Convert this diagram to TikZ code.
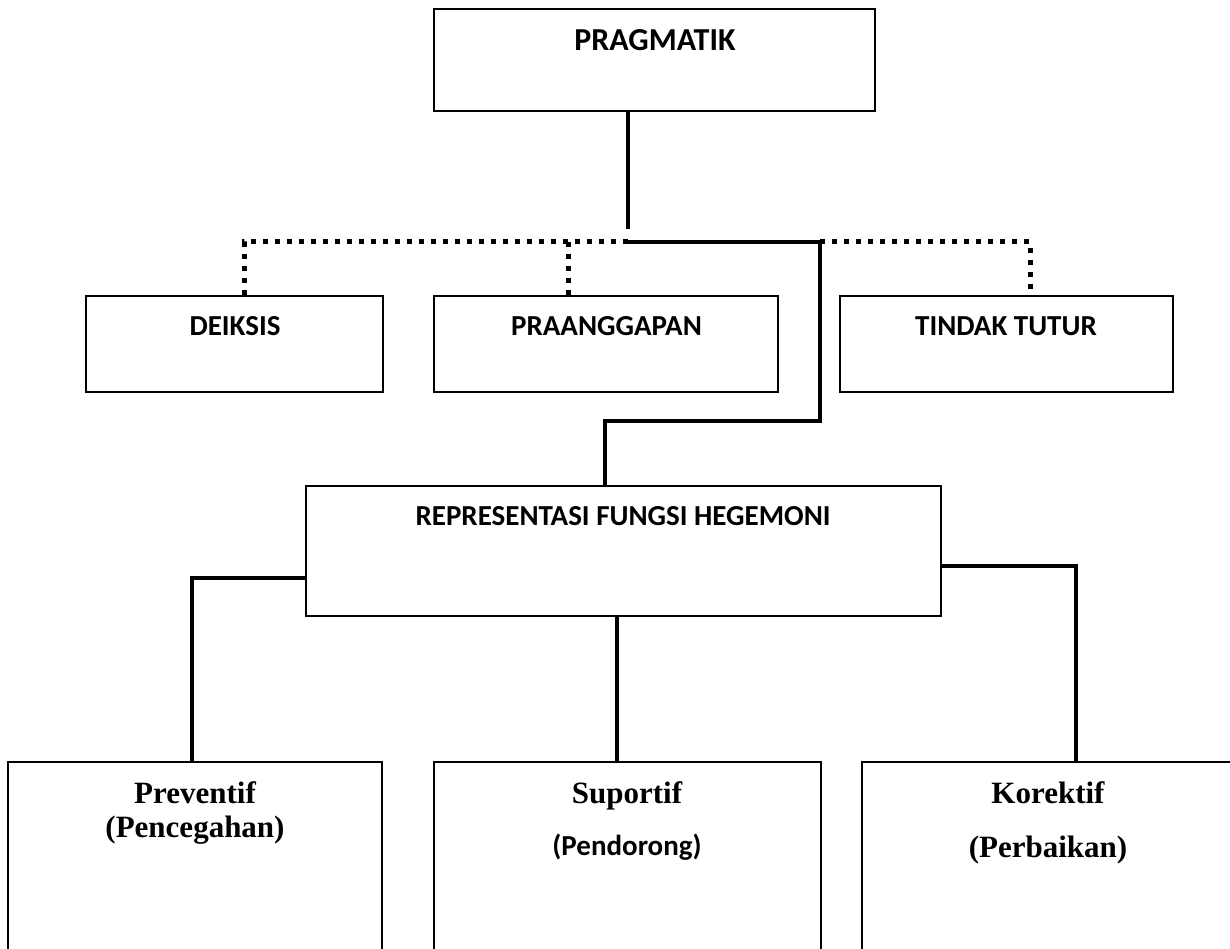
\documentclass[tikz,border=0pt]{standalone}
\usepackage{fontspec}
\setmainfont{Liberation Serif}
\newfontfamily\calib{Carlito}
\begin{document}
\begin{tikzpicture}[x=1pt,y=-1pt,
  box/.style={draw=black,line width=1.3pt,rectangle,inner sep=0pt,fill=white},
  lab/.style={anchor=base,inner sep=0pt,font=\calib\fontsize{29}{34}\selectfont\bfseries},
  serif/.style={anchor=base,inner sep=0pt,font=\fontsize{31}{36}\selectfont\bfseries},
  solid link/.style={line width=4.5pt,line cap=butt,line join=miter},
  dot link/.style={line width=5pt,dash pattern=on 5pt off 7pt,line cap=butt}]
\useasboundingbox (0,0) rectangle (1230,949);
\clip (0,0) rectangle (1230,949);
\fill[white] (0,0) rectangle (1230,949);

% boxes
\node[box,minimum width=441,minimum height=102] (prag) at (654.5,60) {};
\node[box,minimum width=297,minimum height=96] (deik) at (234.5,344) {};
\node[box,minimum width=344,minimum height=96] (praa) at (606,344) {};
\node[box,minimum width=333,minimum height=96] (tind) at (1006.5,344) {};
\node[box,minimum width=635,minimum height=130] (repr) at (623.5,551) {};
\node[box,minimum width=374,minimum height=220] (prev) at (195,872) {};
\node[box,minimum width=387,minimum height=220] (supo) at (627.5,872) {};
\node[box,minimum width=374,minimum height=220] (kore) at (1049,872) {};

% texts
\node[lab,font=\calib\fontsize{32}{36}\selectfont\bfseries] (tprag) at (655,51) {PRAGMATIK};
\node[lab] (tdeik) at (235,335) {DEIKSIS};
\node[lab] (tpraa) at (606.5,335) {PRAANGGAPAN};
\node[lab] (ttind) at (1006,335) {TINDAK TUTUR};
\node[lab] (trepr) at (623,525) {REPRESENTASI FUNGSI HEGEMONI};
\node[serif] (tprev1) at (195,803) {Preventif};
\node[serif] (tprev2) at (195,837) {(Pencegahan)};
\node[serif] (tsupo1) at (627,803) {Suportif};
\node[lab,font=\calib\fontsize{29}{32}\selectfont\bfseries] (tsupo2) at (627,855) {(Pendorong)};
\node[serif] (tkore1) at (1048,803) {Korektif};
\node[serif] (tkore2) at (1048,857) {(Perbaikan)};

% junction coordinates
\coordinate (p0) at (628,229);
\coordinate (hl) at (244,242);
\coordinate (hm) at (628,242);
\coordinate (hr) at (820,242);
\coordinate (hrr) at (1030,242);
\coordinate (k1) at (820,421);
\coordinate (k2) at (605,421);
\coordinate (pv) at (568,242);

% pragmatik stem
\draw[solid link] (prag.south -| p0) -- (p0);
% dotted branches
\draw[dot link] (hm) -- (hl) -- (hl |- deik.north);
\draw[dot link] (pv) -- (pv |- praa.north);
\draw[dot link] (hr) -- (hrr) -- (hrr |- tind.north);
% solid path to representasi
\draw[solid link] (hm) -- (hr) -- (k1) -- (k2) -- (k2 |- repr.north);
% representasi to bottom boxes
\coordinate (l1) at (192,578);
\coordinate (r1) at (1076,566);
\coordinate (m1) at (617,616);
\draw[solid link] (repr.west |- l1) -- (l1) -- (l1 |- prev.north);
\draw[solid link] (m1) -- (m1 |- supo.north);
\draw[solid link] (repr.east |- r1) -- (r1) -- (r1 |- kore.north);
\end{tikzpicture}
\end{document}
